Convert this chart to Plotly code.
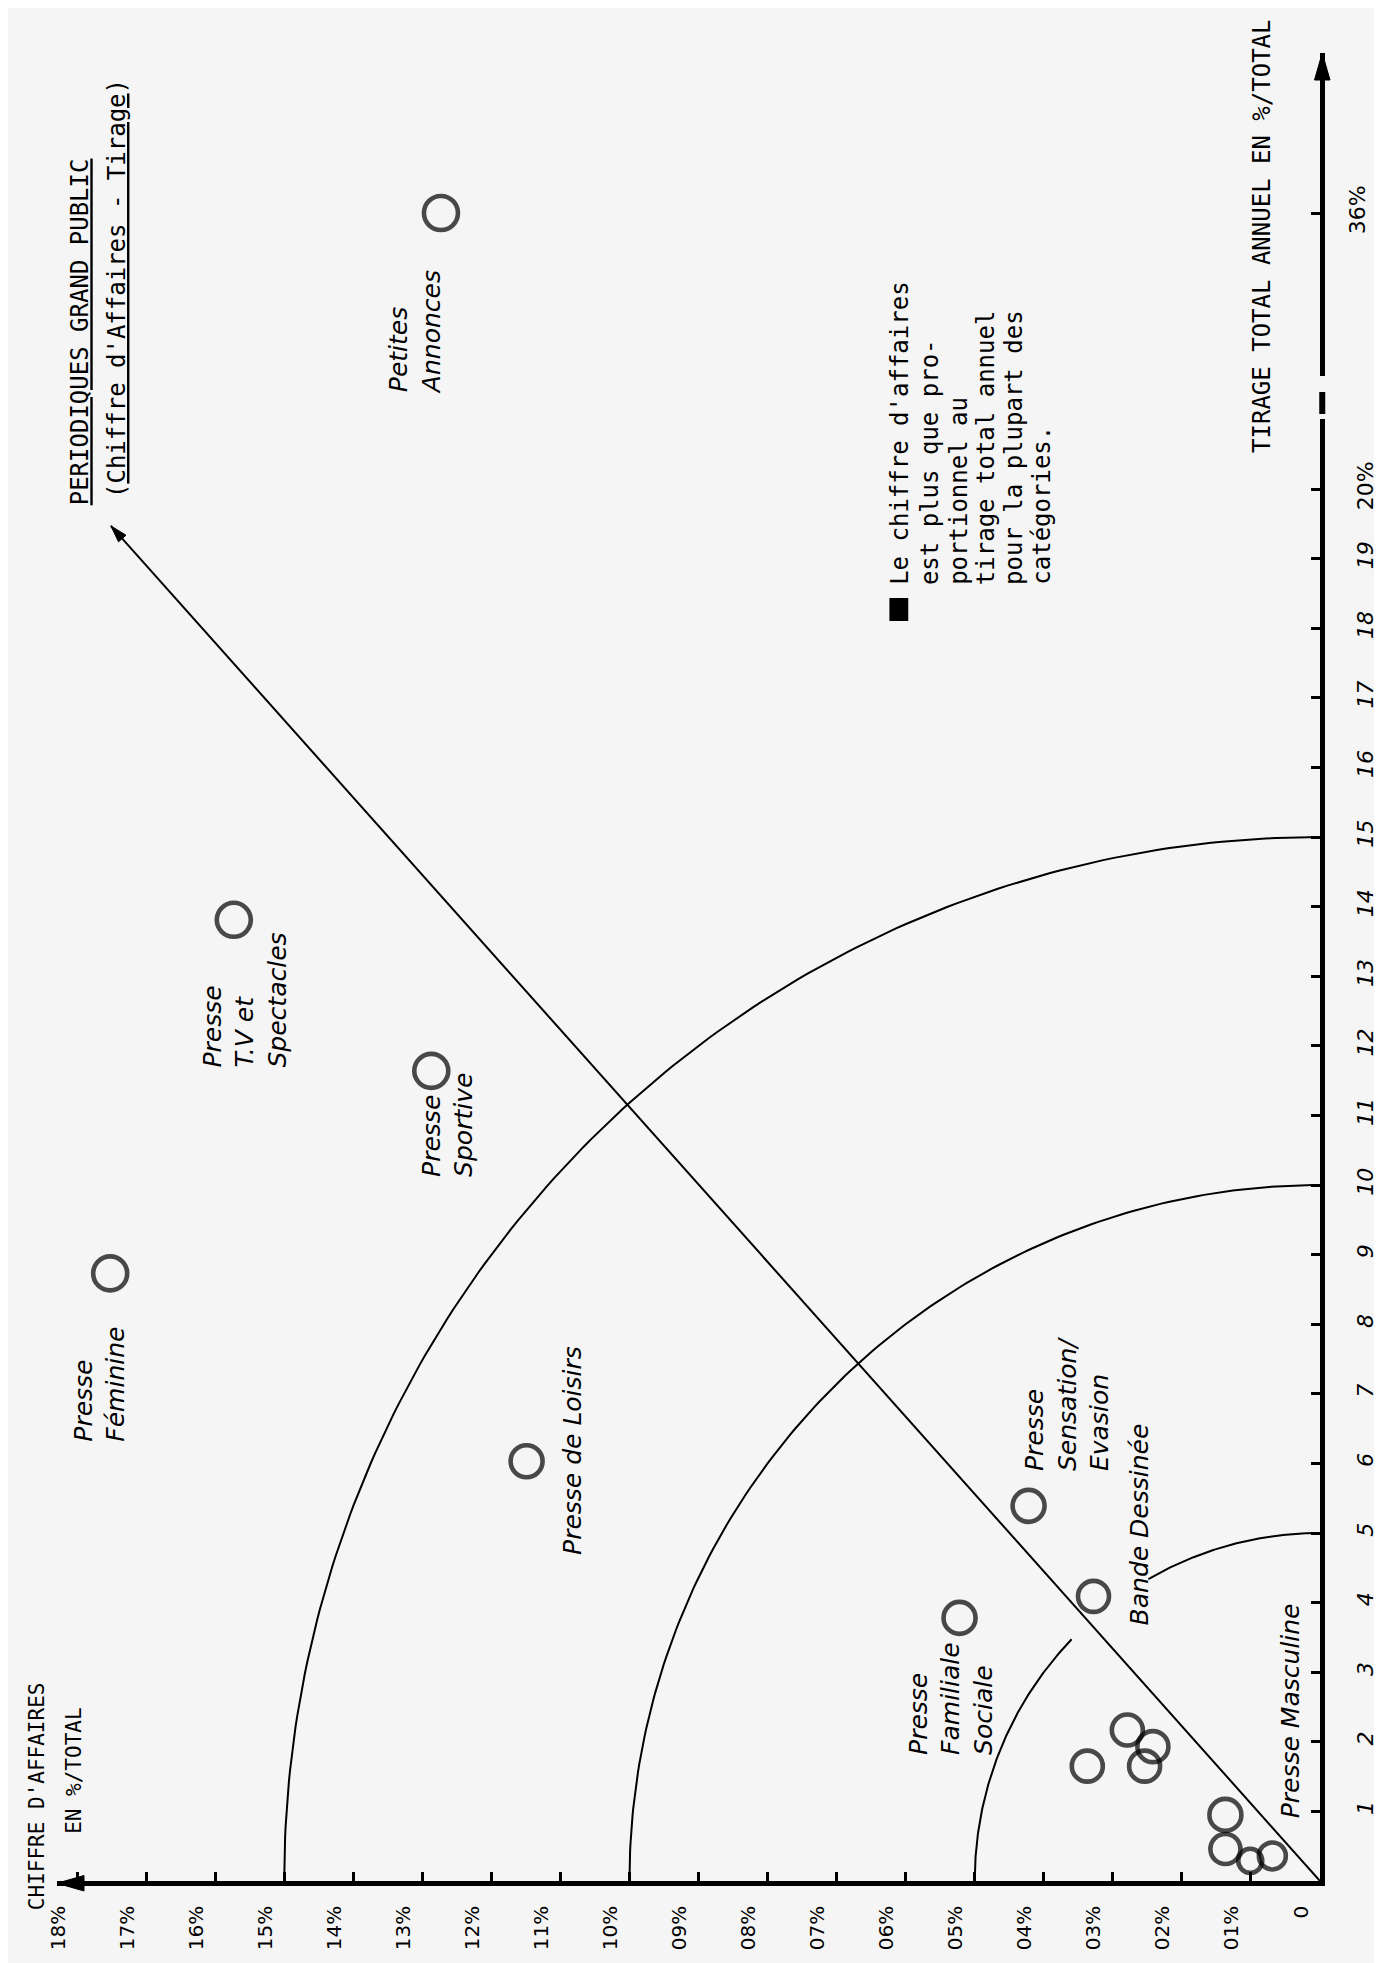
import numpy as np
import plotly.graph_objects as go

# ----------------------------- data -----------------------------
categories = ["Petites Annonces", "Presse T.V et Spectacles", "Presse Sportive",
              "Presse Féminine", "Presse de Loisirs", "Presse Sensation/Evasion",
              "Presse Familiale Sociale", "Bande Dessinée",
              "", "", "", "",
              "Presse Masculine", "Presse Masculine", "Presse Masculine", "Presse Masculine"]
chiffre_affaires_pct = [12.73, 15.73, 12.87, 17.52, 11.49, 4.22, 5.22, 3.28,
                        3.37, 2.79, 2.42, 2.54, 1.37, 1.37, 1.01, 0.69]
tirage_pct = [36.0, 13.81, 11.64, 8.73, 6.03, 5.39, 3.78, 4.09,
              1.65, 2.17, 1.93, 1.65, 0.95, 0.46, 0.29, 0.36]

ca_tickvals = list(range(0, 19))
ca_ticktext = ["0", "01%", "02%", "03%", "04%", "05%", "06%", "07%", "08%", "09%",
               "10%", "11%", "12%", "13%", "14%", "15%", "16%", "17%", "18%"]
tirage_tickvals = list(range(1, 21))
tirage_ticktext = ["<i>%d</i>" % v for v in range(1, 20)] + ["20%"]
tirage_break_tickvals = [36]
tirage_break_ticktext = ["36%"]

arc_radii = [5, 10, 15]                 # iso-lines drawn around the origin
trend_end = (17.51, 19.47)              # end of the diagonal (CA, tirage)

# ----------------------------- layout geometry -----------------------------
PX = 69.6                                # pixels per 1 %
W, H = 1382, 1963
ML, MR, MT, MB = 49, 60, 45, 90
PW, PH = W - ML - MR, H - MT - MB
X0, Y0 = ML + PW, MT + PH                # origin in pixels
LOW_TOP, UP_BOT, Y36 = 411, 368, 205     # axis break / 36% tick (pixels)
BREAK_VAL = tirage_break_tickvals[0]

def ca(px):  return (X0 - px) / PX
def tl(py):  return (Y0 - py) / PX
def tu(py):  return BREAK_VAL - (py - Y36) / PX
def pfx(px): return (px - ML) / PW
def pfy(py): return (Y0 - py) / PH

INK = "#000000"
BG = "#f5f5f5"
HAND = dict(family="DejaVu Sans", size=25, color=INK, style="italic")
MONO = dict(family="DejaVu Sans Mono", size=24, color=INK)
AXW = 4.5

fig = go.Figure()

# reference arcs
for r in arc_radii:
    segs = [(0, 44), (60.2, 90)] if r == 5 else [(0, 90)]
    xs, ys = [], []
    for a0, a1 in segs:
        th = np.radians(np.linspace(a0, a1, 150))
        xs += list(r * np.cos(th)) + [None]
        ys += list(r * np.sin(th)) + [None]
    fig.add_trace(go.Scatter(x=xs, y=ys, mode="lines", line=dict(color=INK, width=2),
                             hoverinfo="skip", showlegend=False))

# diagonal
fig.add_trace(go.Scatter(x=[0, trend_end[0]], y=[0, trend_end[1]], mode="lines",
                         line=dict(color=INK, width=2), hoverinfo="skip", showlegend=False))

# circles
sizes = [34, 34, 34, 34, 32, 32, 32, 31, 31, 31, 31, 31, 32, 30, 24, 27]
low = [i for i, t in enumerate(tirage_pct) if t < 30]
up = [i for i, t in enumerate(tirage_pct) if t >= 30]
for idx, yax in ((low, "y"), (up, "y2")):
    fig.add_trace(go.Scatter(
        x=[chiffre_affaires_pct[i] for i in idx], y=[tirage_pct[i] for i in idx],
        text=[categories[i] for i in idx], yaxis=yax, mode="markers", cliponaxis=False,
        marker=dict(symbol="circle", size=[sizes[i] for i in idx], color="rgba(0,0,0,0)",
                    line=dict(width=4.6, color=INK)),
        hovertemplate="%{text}<br>CA %{x}%<br>Tirage %{y}%<extra></extra>", showlegend=False))

ann = []
# category labels: (text, centre x px, centre y px, axis)
label_specs = [
    ("Petites<br>Annonces", 410, 324, "y2"),
    ("Presse<br>T.V et<br>Spectacles", 238, 992, "y"),
    ("Presse<br>Sportive", 443, 1117, "y"),
    ("Presse<br>Féminine", 92, 1376, "y"),
    ("Presse de Loisirs", 568, 1442, "y"),
    ("Presse<br>Sensation/<br>Evasion", 1067, 1396, "y"),
    ("Presse<br>Familiale<br>Sociale", 950, 1690, "y"),
    ("Bande Dessinée", 1140, 1516, "y"),
    ("Presse Masculine", 1292, 1703, "y"),
]
for txt, px, py, yax in label_specs:
    ann.append(dict(text=txt, x=ca(px), y=(tu(py) if yax == "y2" else tl(py)),
                    xref="x", yref=yax, showarrow=False, textangle=-90, align="left",
                    xanchor="center", yanchor="middle", font=HAND))

# title
ann.append(dict(text="<u>PERIODIQUES GRAND PUBLIC</u>", x=ca(73), y=tl(499), xref="x", yref="y",
                showarrow=False, textangle=-90, xanchor="center", yanchor="bottom", font=MONO))
ann.append(dict(text="(<u>Chiffre d'Affaires - Tirage</u>)", x=ca(110), y=tl(492), xref="x",
                yref="y", showarrow=False, textangle=-90, xanchor="center", yanchor="bottom",
                font=MONO))

# note
note_lines = ["Le chiffre d'affaires", "est plus que pro-", "portionnel au",
              "tirage total annuel", "pour la plupart des", "catégories."]
note_x = [898, 929, 958, 985, 1013, 1041]
for line, px in zip(note_lines, note_x):
    ann.append(dict(text=line, x=ca(px), y=tl(579), xref="x", yref="y", showarrow=False,
                    textangle=-90, xanchor="center", yanchor="bottom", font=MONO))

# axis titles
ann.append(dict(text="TIRAGE TOTAL ANNUEL EN %/TOTAL", x=ca(1264), y=tl(447), xref="x", yref="y",
                showarrow=False, textangle=-90, xanchor="center", yanchor="bottom", font=MONO))
ann.append(dict(text="CHIFFRE D'AFFAIRES", x=pfx(29), y=pfy(1672), xref="paper", yref="paper",
                showarrow=False, textangle=-90, xanchor="center", yanchor="top",
                font=dict(family="DejaVu Sans Mono", size=21, color=INK)))
ann.append(dict(text="EN %/TOTAL", x=pfx(66), y=pfy(1698), xref="paper", yref="paper",
                showarrow=False, textangle=-90, xanchor="center", yanchor="top",
                font=dict(family="DejaVu Sans Mono", size=21, color=INK)))

shapes = []
# arrowheads of the axes
shapes.append(dict(type="path", xref="paper", yref="paper", xsizemode="pixel", ysizemode="pixel",
                   xanchor=1, yanchor=1, path="M2.25,0 L-5.5,-27 L10,-27 Z",
                   fillcolor=INK, line=dict(color=INK, width=1)))
shapes.append(dict(type="path", xref="paper", yref="paper", xsizemode="pixel", ysizemode="pixel",
                   xanchor=0, yanchor=0, path="M0,-2.25 L27,-10 L27,5.5 Z",
                   fillcolor=INK, line=dict(color=INK, width=1)))
# piece inside the axis break
shapes.append(dict(type="line", xref="paper", yref="paper", xsizemode="pixel", xanchor=1,
                   x0=2.25, x1=2.25, y0=pfy(406), y1=pfy(384), line=dict(color=INK, width=6)))
# arrowhead of the diagonal
dx, dy = -trend_end[0], trend_end[1]
n = (dx ** 2 + dy ** 2) ** 0.5
ux, uy = dx / n, dy / n
Lh, Wh = 17, 5
bx, by = -Lh * ux, -Lh * uy
px_, py_ = -uy, ux
shapes.append(dict(type="path", xref="x", yref="y", xsizemode="pixel", ysizemode="pixel",
                   xanchor=trend_end[0], yanchor=trend_end[1],
                   path="M0,0 L%.2f,%.2f L%.2f,%.2f Z" % (bx + Wh * px_, by + Wh * py_,
                                                         bx - Wh * px_, by - Wh * py_),
                   fillcolor=INK, line=dict(color=INK, width=1)))
# bullet of the note
shapes.append(dict(type="rect", xref="x", yref="y", x0=ca(888), x1=ca(907), y0=tl(613), y1=tl(590),
                   fillcolor=INK, line=dict(width=0)))

axis_common = dict(showline=True, linecolor=INK, linewidth=AXW, ticks="inside", ticklen=9,
                   tickwidth=2.5, tickcolor=INK, showgrid=False, zeroline=False, tickangle=-90)

fig.update_layout(
    width=W, height=H, margin=dict(l=ML, r=MR, t=MT, b=MB),
    paper_bgcolor=BG, plot_bgcolor=BG, showlegend=False,
    xaxis=dict(range=[PW / PX, 0], tickvals=ca_tickvals, ticktext=ca_ticktext,
               tickfont=dict(family="DejaVu Sans", size=20, color=INK),
               ticklabelstandoff=12, ticklabelshift=19, anchor="y", **axis_common),
    yaxis=dict(domain=[0, pfy(LOW_TOP)], range=[0, tl(LOW_TOP)], side="right", anchor="x",
               tickvals=tirage_tickvals, ticktext=tirage_ticktext,
               tickfont=dict(family="DejaVu Sans", size=22, color=INK),
               ticklabelstandoff=22, **axis_common),
    yaxis2=dict(domain=[pfy(UP_BOT), 1], range=[tu(UP_BOT), tu(MT)], side="right", anchor="x",
                tickvals=tirage_break_tickvals, ticktext=tirage_break_ticktext,
                tickfont=dict(family="DejaVu Sans", size=22, color=INK),
                ticklabelstandoff=14, **axis_common),
    annotations=ann, shapes=shapes,
)

fig.write_html("out.html")
